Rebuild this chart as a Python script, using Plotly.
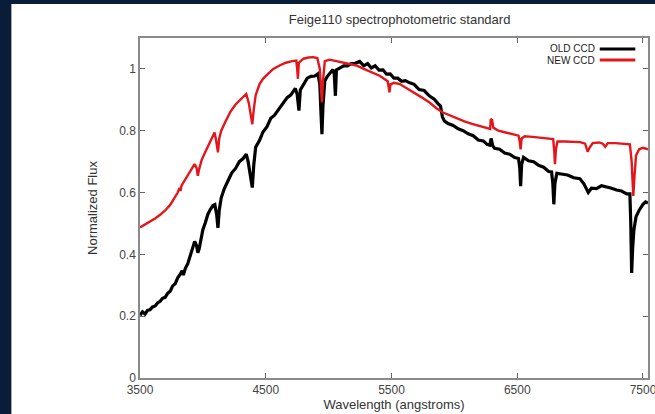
"""Feige110 standard star: old vs new CCD normalized flux."""

import plotly.graph_objects as go

# OLD CCD (black)
old_wave = [
    3500, 3520, 3540, 3560, 3580, 3600, 3620, 3640, 3660, 3680, 3700, 3720, 3740, 3760, 3780,
    3800, 3820, 3835, 3845, 3860, 3880, 3900, 3920, 3935, 3950, 3960, 3970, 3985, 4000, 4020,
    4040, 4060, 4080, 4095, 4110, 4120, 4130, 4146, 4170, 4200, 4230, 4260, 4290, 4320, 4345,
    4360, 4375, 4393, 4405, 4420, 4450, 4478, 4510, 4540, 4570, 4610, 4640, 4670, 4700, 4735,
    4750, 4764, 4775, 4800, 4830, 4860, 4890, 4915, 4930, 4940, 4947, 4955, 4970, 4990, 5010,
    5035, 5045, 5054, 5062, 5090, 5120, 5150, 5180, 5210, 5247, 5280, 5310, 5340, 5370, 5400,
    5433, 5460, 5490, 5520, 5550, 5580, 5610, 5645, 5680, 5720, 5760, 5800, 5840, 5870, 5890,
    5905, 5920, 5950, 5990, 6030, 6070, 6110, 6150, 6190, 6230, 6260, 6282, 6292, 6305, 6320,
    6360, 6400, 6440, 6480, 6510, 6520, 6527, 6535, 6550, 6590, 6630, 6670, 6710, 6750, 6773,
    6783, 6791, 6800, 6815, 6850, 6900, 6950, 6998, 7030, 7050, 7065, 7090, 7130, 7170, 7211,
    7250, 7290, 7330, 7370, 7396, 7403, 7410, 7418, 7428, 7445, 7470, 7500, 7520, 7540,
]
old_flux = [
    0.203, 0.214, 0.207, 0.219, 0.221, 0.230, 0.233, 0.243, 0.248, 0.258, 0.261, 0.274, 0.281, 0.298, 0.305,
    0.324, 0.336, 0.347, 0.333, 0.354, 0.370, 0.398, 0.428, 0.442, 0.428, 0.405, 0.417, 0.453, 0.480, 0.503,
    0.530, 0.546, 0.558, 0.561, 0.528, 0.486, 0.542, 0.583, 0.612, 0.638, 0.664, 0.678, 0.700, 0.710, 0.724,
    0.700, 0.660, 0.616, 0.690, 0.747, 0.768, 0.796, 0.813, 0.840, 0.850, 0.872, 0.888, 0.907, 0.916, 0.937,
    0.918, 0.865, 0.932, 0.948, 0.970, 0.976, 0.977, 0.984, 0.950, 0.850, 0.789, 0.880, 0.962, 0.976, 0.987,
    0.998, 0.982, 0.913, 0.997, 1.003, 1.010, 1.010, 1.017, 1.018, 1.024, 1.010, 1.017, 1.003, 1.010, 0.996,
    0.997, 0.983, 0.984, 0.970, 0.970, 0.960, 0.962, 0.955, 0.950, 0.933, 0.930, 0.913, 0.902, 0.888, 0.880,
    0.845, 0.832, 0.823, 0.817, 0.806, 0.800, 0.790, 0.784, 0.770, 0.767, 0.756, 0.753, 0.775, 0.752, 0.743,
    0.740, 0.728, 0.724, 0.713, 0.710, 0.680, 0.621, 0.690, 0.714, 0.703, 0.700, 0.688, 0.682, 0.668, 0.667,
    0.630, 0.562, 0.630, 0.662, 0.660, 0.657, 0.648, 0.645, 0.628, 0.612, 0.600, 0.614, 0.613, 0.622, 0.619,
    0.614, 0.608, 0.605, 0.596, 0.596, 0.500, 0.340, 0.420, 0.480, 0.522, 0.543, 0.562, 0.570, 0.566,
]

# NEW CCD (red)
new_wave = [
    3500, 3540, 3580, 3620, 3660, 3700, 3740, 3780, 3800, 3814, 3822, 3830, 3860, 3890, 3910,
    3934, 3950, 3960, 3970, 3990, 4020, 4050, 4075, 4093, 4105, 4120, 4130, 4146, 4180, 4220,
    4260, 4300, 4345, 4365, 4380, 4393, 4405, 4420, 4450, 4478, 4520, 4560, 4610, 4660, 4710,
    4743, 4750, 4756, 4763, 4800, 4840, 4876, 4910, 4930, 4940, 4947, 4955, 4970, 5008, 5060,
    5120, 5180, 5221, 5280, 5340, 5406, 5470, 5478, 5484, 5492, 5520, 5566, 5620, 5680, 5740,
    5800, 5860, 5910, 5960, 6020, 6080, 6140, 6200, 6260, 6285, 6290, 6300, 6310, 6350, 6400,
    6460, 6510, 6520, 6527, 6535, 6560, 6620, 6680, 6740, 6786, 6795, 6800, 6808, 6820, 6880,
    6950, 7000, 7040, 7060, 7075, 7100, 7150, 7180, 7200, 7220, 7280, 7340, 7396, 7410, 7423,
    7432, 7445, 7470, 7500, 7540,
]
new_flux = [
    0.487, 0.496, 0.506, 0.516, 0.528, 0.542, 0.560, 0.585, 0.600, 0.615, 0.605, 0.622, 0.642, 0.662, 0.675,
    0.692, 0.680, 0.654, 0.675, 0.705, 0.732, 0.758, 0.778, 0.794, 0.770, 0.730, 0.775, 0.800, 0.830, 0.862,
    0.885, 0.902, 0.919, 0.890, 0.850, 0.821, 0.870, 0.915, 0.950, 0.968, 0.985, 1.000, 1.011, 1.020, 1.025,
    1.027, 1.000, 0.968, 1.020, 1.033, 1.037, 1.038, 1.035, 1.000, 0.930, 0.892, 0.960, 1.025, 1.030, 1.025,
    1.020, 1.015, 1.011, 1.000, 0.990, 0.978, 0.960, 0.935, 0.924, 0.950, 0.955, 0.951, 0.938, 0.925, 0.908,
    0.892, 0.872, 0.859, 0.850, 0.840, 0.830, 0.822, 0.815, 0.808, 0.806, 0.838, 0.835, 0.810, 0.800, 0.795,
    0.789, 0.784, 0.765, 0.740, 0.775, 0.782, 0.780, 0.778, 0.775, 0.773, 0.730, 0.692, 0.740, 0.765, 0.765,
    0.764, 0.763, 0.758, 0.732, 0.745, 0.760, 0.762, 0.758, 0.748, 0.760, 0.760, 0.758, 0.756, 0.700, 0.589,
    0.650, 0.720, 0.740, 0.745, 0.740,
]

x_ticks = [3500, 4500, 5500, 6500, 7500]
y_ticks = [0, 0.2, 0.4, 0.6, 0.8, 1]

fig = go.Figure()
fig.add_trace(go.Scatter(x=old_wave, y=old_flux, mode="lines", name="OLD CCD",
                         line=dict(color="#000000", width=3.2)))
fig.add_trace(go.Scatter(x=new_wave, y=new_flux, mode="lines", name="NEW CCD",
                         line=dict(color="#e3161c", width=2.4)))

# slide backdrop: navy page with a white card behind the plot
fig.add_shape(type="rect", xref="paper", yref="paper", x0=-0.2532, x1=1.06, y0=-0.2, y1=1.1,
              fillcolor="white", line_width=0, layer="below")

# gnuplot style key: label then sample line on the right
for label, color, ypos in [("OLD CCD", "#000000", 0.968), ("NEW CCD", "#e3161c", 0.935)]:
    fig.add_annotation(xref="paper", yref="paper", x=0.90, y=ypos, text=label, showarrow=False,
                       xanchor="right", yanchor="middle", font=dict(size=10, color="#222"))
    fig.add_shape(type="line", xref="paper", yref="paper", x0=0.905, x1=0.975, y0=ypos, y1=ypos,
                  line=dict(color=color, width=3))

axis_style = dict(showline=True, linecolor="#8a8a8a", linewidth=1.5, mirror="ticks",
                  ticks="inside", ticklen=5, tickcolor="#666", showgrid=False, zeroline=False,
                  automargin=False, ticklabeloverflow="allow", tickfont=dict(size=12, color="#444"))

fig.update_xaxes(range=[3500, 7540], tickvals=x_ticks, title_text="Wavelength (angstroms)",
                 title_font=dict(size=13, color="#333"), title_standoff=4, **axis_style)
fig.update_yaxes(range=[0, 1.1], tickvals=y_ticks, title_text="Normalized Flux",
                 title_font=dict(size=13, color="#333"), title_standoff=19, **axis_style)

fig.update_layout(
    width=655,
    height=414,
    paper_bgcolor="#0a1d38",
    plot_bgcolor="white",
    showlegend=False,
    font=dict(family="Liberation Sans, Arial, sans-serif"),
    title=dict(text="Feige110 spectrophotometric standard", x=0.511, xref="paper", xanchor="center",
               y=0.952, yanchor="middle", font=dict(size=13, color="#333")),
    margin=dict(l=140, r=7, t=38, b=36),
)

# drop the default 8px body margin so the figure sits at the window's corner
fig.write_html("out.html", config={"displayModeBar": False},
               post_script="document.body.style.margin='0';")
